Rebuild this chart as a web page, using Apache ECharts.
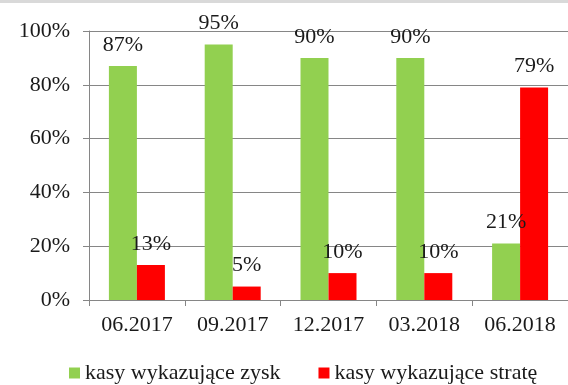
<!DOCTYPE html>
<html>
<head>
<meta charset="utf-8">
<script src="https://cdn.jsdelivr.net/npm/echarts@6/dist/echarts.min.js"></script>
<style>
html,body{margin:0;padding:0;background:#fff;}
#chart{width:568px;height:385px;}
</style>
</head>
<body>
<div id="chart"></div>
<script>
const categories = ['06.2017', '09.2017', '12.2017', '03.2018', '06.2018'];
const profitLabel = 'kasy wykazujące zysk';
const lossLabel = 'kasy wykazujące stratę';
const profitValues = [87, 95, 90, 90, 21];
const lossValues = [13, 5, 10, 10, 79];

const font = 'Liberation Serif';
const textColor = '#1a1a1a';
const chart = echarts.init(document.getElementById('chart'));

const labelCfg = {
  show: true,
  position: 'top',
  distance: 10,
  formatter: '{c}%',
  fontFamily: font,
  fontSize: 22,
  color: textColor
};

chart.setOption({
  animation: false,
  textStyle: { fontFamily: font },
  graphic: [{
    type: 'rect',
    shape: { x: 0, y: 0, width: 568, height: 3 },
    style: { fill: '#d9d9d9' },
    silent: true
  }],
  grid: { left: 89, right: -11, top: 31, bottom: 85 },
  legend: {
    left: 64,
    top: 357,
    itemWidth: 11,
    itemHeight: 11,
    itemGap: 38,
    icon: 'rect',
    textStyle: { fontFamily: font, fontSize: 22, color: textColor },
    data: [profitLabel, lossLabel]
  },
  xAxis: {
    type: 'category',
    data: categories,
    axisLine: { lineStyle: { color: '#868686', width: 1 } },
    axisTick: { show: true, length: 6, lineStyle: { color: '#868686' } },
    axisLabel: { fontFamily: font, fontSize: 22, color: textColor, margin: 14 }
  },
  yAxis: {
    type: 'value',
    min: 0,
    max: 100,
    interval: 20,
    axisLine: { show: true, lineStyle: { color: '#868686', width: 1 } },
    axisTick: { show: true, length: 6, lineStyle: { color: '#868686' } },
    splitLine: { lineStyle: { color: '#868686', width: 1 } },
    axisLabel: { fontFamily: font, fontSize: 22, color: textColor, margin: 19, formatter: '{value}%' }
  },
  series: [
    {
      name: profitLabel,
      type: 'bar',
      data: profitValues,
      barWidth: 28,
      barGap: '0%',
      itemStyle: { color: '#92d050' },
      label: labelCfg
    },
    {
      name: lossLabel,
      type: 'bar',
      data: lossValues,
      barWidth: 28,
      barGap: '0%',
      itemStyle: { color: '#ff0000' },
      label: labelCfg
    }
  ]
});
</script>
</body>
</html>
